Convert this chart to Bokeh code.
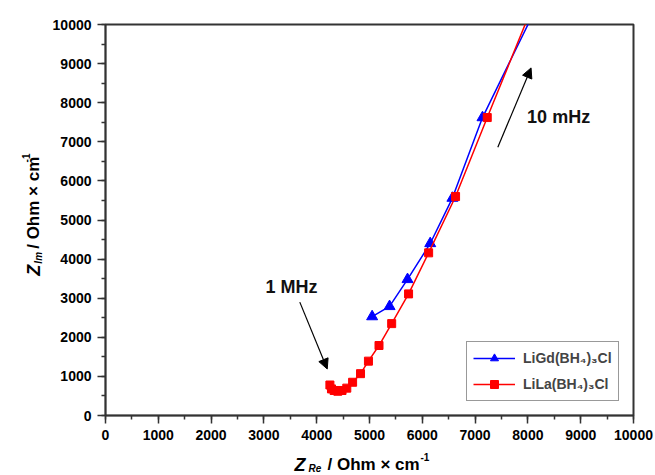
import math
from bokeh.plotting import figure
from bokeh.layouts import column, row
from bokeh.models import (Range1d, SingleIntervalTicker, Label, Arrow, NormalHead,
                          Legend, LegendItem)
from bokeh.core.properties import value
from bokeh.embed import file_html
from bokeh.resources import INLINE

# LiGd(BH4)3Cl
gd_x = [5050, 5380, 5720, 6150, 6570, 7140, 8400]
gd_y = [2530, 2790, 3480, 4400, 5560, 7620, 11100]
# LiLa(BH4)3Cl
la_x = [4250, 4280, 4330, 4400, 4480, 4570, 4680, 4830, 4980, 5180, 5420, 5740, 6120, 6630, 7230, 8300]
la_y = [780, 680, 640, 620, 640, 700, 850, 1070, 1390, 1790, 2350, 3110, 4160, 5600, 7620, 11170]

gd_label = "LiGd(BH\u2084)\u2083Cl"
la_label = "LiLa(BH\u2084)\u2083Cl"

FONT = "Liberation Sans"
AX = "#333333"

# ---------------- main plot ----------------
p = figure(width=610, height=448, x_range=Range1d(0, 10000), y_range=Range1d(0, 10000),
           output_backend="svg", toolbar_location=None,
           min_border_left=60, min_border_right=22, min_border_top=24, min_border_bottom=33)
p.grid.visible = False
p.outline_line_color = AX
p.outline_line_width = 2
p.background_fill_color = "white"
p.border_fill_color = "white"

for ax in (p.xaxis[0], p.yaxis[0]):
    ax.ticker = SingleIntervalTicker(interval=1000, num_minor_ticks=2)
    ax.axis_line_color = AX
    ax.axis_line_width = 1.5
    ax.major_tick_line_color = AX
    ax.major_tick_line_width = 1.5
    ax.minor_tick_line_color = AX
    ax.minor_tick_line_width = 1.5
    ax.major_tick_in = 0
    ax.major_tick_out = 8
    ax.minor_tick_in = 0
    ax.minor_tick_out = 4
    ax.major_label_text_font = FONT
    ax.major_label_text_font_style = "bold"
    ax.major_label_text_font_size = "14px"
    ax.major_label_text_color = "black"
    ax.major_label_standoff = 6

gd_line = p.line(gd_x, gd_y, line_color="#0000ff", line_width=1.5)
gd_mark = p.scatter(gd_x, gd_y, marker="triangle", size=11, fill_color="#0000ff", line_color="#0000ff")
la_line = p.line(la_x, la_y, line_color="#ff0000", line_width=1.5)
la_mark = p.scatter(la_x, la_y, marker="square", size=8, fill_color="#ff0000", line_color="#ff0000")

legend = Legend(items=[LegendItem(label=gd_label, renderers=[gd_line, gd_mark]),
                       LegendItem(label=la_label, renderers=[la_line, la_mark])],
                location=(361, 14), border_line_color=AX, border_line_width=1,
                label_text_font=FONT, label_text_font_style="bold", label_text_font_size="14px",
                glyph_width=42, glyph_height=20, label_height=20, label_standoff=8,
                padding=6, spacing=6, margin=0, background_fill_alpha=1.0)
p.add_layout(legend)

# annotations
p.add_layout(Arrow(end=NormalHead(size=10, fill_color="black", line_color="black", line_width=1),
                   x_start=3680, y_start=2900, x_end=4200, y_end=1190,
                   line_color="black", line_width=1.2))
p.add_layout(Label(x=3030, y=3274, text="1 MHz", text_font=FONT, text_font_style="bold",
                   text_font_size="18px", text_baseline="middle", text_color="#111111"))
p.add_layout(Arrow(end=NormalHead(size=10, fill_color="black", line_color="black", line_width=1),
                   x_start=7430, y_start=6860, x_end=8060, y_end=8890,
                   line_color="black", line_width=1.2))
p.add_layout(Label(x=7985, y=7634, text="10 mHz", text_font=FONT, text_font_style="bold",
                   text_font_size="18px", text_baseline="middle", text_color="#111111"))


def label_fig(w, h):
    f = figure(width=w, height=h, x_range=Range1d(0, w), y_range=Range1d(0, h),
               output_backend="svg", toolbar_location=None, x_axis_type=None, y_axis_type=None,
               min_border=0)
    f.grid.visible = False
    f.outline_line_color = None
    f.background_fill_color = "white"
    f.border_fill_color = "white"
    return f


def piece(f, x, y, text, size, style="bold", angle=0.0):
    f.text(x=[x], y=[y], text=[text], text_font=value(FONT), text_font_style=style,
           text_font_size=size, text_baseline="alphabetic", text_align="left",
           angle=angle, text_color="black")


# ---------------- x axis title: Z_Re / Ohm x cm^-1 ----------------
xf = label_fig(655, 27)
piece(xf, 294, 11, "Z", "18px", "bold italic")
piece(xf, 308, 7, "Re", "10px", "bold italic")
piece(xf, 327, 11, "/ Ohm \u00d7 cm", "17px")
piece(xf, 420, 19, "-1", "10px")

# ---------------- y axis title: Z_Im / Ohm x cm^-1 ----------------
yf = label_fig(45, 448)
A = math.pi / 2
piece(yf, 33, 160, "Z", "18px", "bold italic", A)
piece(yf, 38, 174, "Im", "10px", "bold italic", A)
piece(yf, 33, 191, "/ Ohm \u00d7 cm", "17px", "bold", A)
piece(yf, 25, 290, "-1", "10px", "bold", A)

layout = column(row(yf, p, spacing=0), xf, spacing=0)

open("out.html", "w").write(file_html(layout, INLINE))
